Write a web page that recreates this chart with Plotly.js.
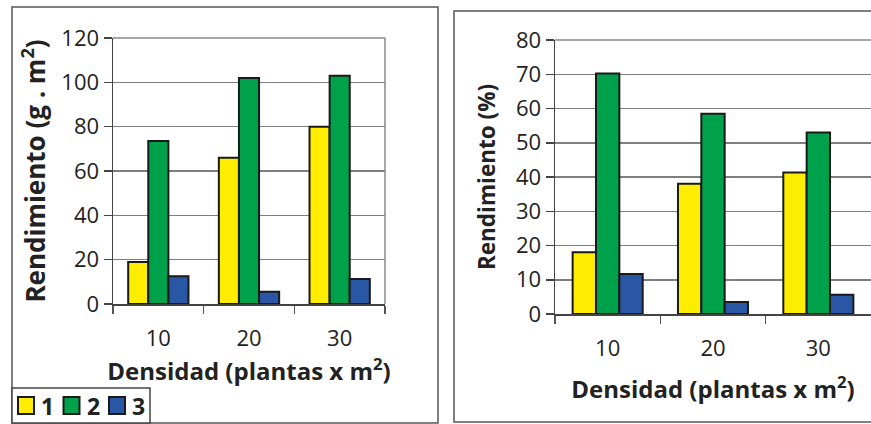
<!DOCTYPE html>
<html>
<head>
<meta charset="utf-8">
<script src="https://cdn.plot.ly/plotly-3.0.1.min.js"></script>
<style>html,body{margin:0;padding:0;background:#fff;}#chart{width:871px;height:424px;}</style>
</head>
<body>
<div id="chart"></div>
<script>
// Data
const densidad = ['10', '20', '30'];
const seriesNames = ['1', '2', '3'];
const seriesColors = ['#FFED00', '#00A14B', '#2A56A6'];
// Left chart: Rendimiento (g . m2)
const gramos1 = [19, 66, 80];
const gramos2 = [73.5, 102, 103];
const gramos3 = [12.5, 5.5, 11.3];
// Right chart: Rendimiento (%)
const pct1 = [18, 38, 41.3];
const pct2 = [70.2, 58.5, 53];
const pct3 = [11.7, 3.5, 5.6];

const leftVals = [gramos1, gramos2, gramos3];
const rightVals = [pct1, pct2, pct3];

const FONT = 'Open Sans, Noto Sans, DejaVu Sans, sans-serif';
const INK = '#222';
const traces = [];
leftVals.forEach((v, i) => {
  traces.push({
    type: 'bar', x: densidad, y: v, name: seriesNames[i], xaxis: 'x', yaxis: 'y',
    marker: {color: seriesColors[i], line: {color: '#1a1a1a', width: 2}},
    showlegend: false, hoverinfo: 'y'
  });
});
rightVals.forEach((v, i) => {
  traces.push({
    type: 'bar', x: densidad, y: v, name: seriesNames[i], xaxis: 'x2', yaxis: 'y2',
    marker: {color: seriesColors[i], line: {color: '#1a1a1a', width: 2}},
    showlegend: false, hoverinfo: 'y'
  });
});

const W = 871, H = 424;
const px = x => x / W;
const py = y => 1 - y / H;

const xBase = {
  type: 'category', tickson: 'boundaries', ticks: 'outside', ticklen: 8, tickwidth: 1.5,
  tickcolor: '#555', showgrid: false, showline: true, linecolor: '#444', linewidth: 1.5,
  tickfont: {family: FONT, size: 22, color: INK}, ticklabelstandoff: 14,
  fixedrange: true, zeroline: false, automargin: false
};
const yBase = {
  ticks: 'outside', ticklen: 8, tickwidth: 1.5, tickcolor: '#444',
  showgrid: true, gridcolor: '#7f7f7f', gridwidth: 1.5,
  showline: true, linecolor: '#444', linewidth: 1.5, zeroline: false,
  tickfont: {family: FONT, size: 22, color: INK}, fixedrange: true, automargin: false
};

const shapes = [
  // left panel frame
  {type: 'rect', xref: 'paper', yref: 'paper', x0: px(12), x1: px(438), y0: py(423), y1: py(7), line: {color: '#555', width: 1.5}, layer: 'below'},
  // right panel frame
  {type: 'rect', xref: 'paper', yref: 'paper', x0: px(454), x1: px(880), y0: py(422), y1: py(11), line: {color: '#555', width: 1.5}, layer: 'below'},
  // plot area top/right borders (gray)
  {type: 'line', xref: 'paper', yref: 'paper', x0: px(113), x1: px(385), y0: py(38), y1: py(38), line: {color: '#8a8a8a', width: 1.5}},
  {type: 'line', xref: 'paper', yref: 'paper', x0: px(385), x1: px(385), y0: py(38), y1: py(304), line: {color: '#8a8a8a', width: 1.5}},
  {type: 'line', xref: 'paper', yref: 'paper', x0: px(555), x1: 1, y0: py(40), y1: py(40), line: {color: '#8a8a8a', width: 1.5}},
  // legend box
  {type: 'rect', xref: 'paper', yref: 'paper', x0: px(12), x1: px(150), y0: py(423), y1: py(388), line: {color: '#444', width: 1.5}, fillcolor: '#fff'}
];
const annotations = [];
// legend entries built from the series names/colours
seriesNames.forEach((n, i) => {
  const x0 = 18 + i * 45.5;
  shapes.push({type: 'rect', xref: 'paper', yref: 'paper', x0: px(x0), x1: px(x0 + 16), y0: py(414), y1: py(397),
    line: {color: '#1a1a1a', width: 2}, fillcolor: seriesColors[i]});
  annotations.push({xref: 'paper', yref: 'paper', x: px(x0 + 21), y: py(406), xanchor: 'left', yanchor: 'middle',
    text: n, showarrow: false, font: {family: FONT, size: 23, color: INK, weight: 'bold'}});
});

const layout = {
  width: W, height: H,
  margin: {l: 0, r: 0, t: 0, b: 0},
  paper_bgcolor: '#fff', plot_bgcolor: '#fff',
  barmode: 'group', bargap: 0.335, bargroupgap: 0,
  showlegend: false,
  font: {family: FONT, color: INK},
  xaxis: Object.assign({}, xBase, {
    domain: [px(113), px(385)], anchor: 'y',
    title: {text: 'Densidad (plantas x m<sup>2</sup>)', font: {family: FONT, size: 24, color: INK, weight: 'bold'}, standoff: 10}
  }),
  yaxis: Object.assign({}, yBase, {
    domain: [py(304), py(38)], anchor: 'x', range: [0, 120], dtick: 20,
    title: {text: 'Rendimiento (g . m<sup>2</sup>)', font: {family: FONT, size: 26, color: INK, weight: 'bold'}, standoff: 8}
  }),
  xaxis2: Object.assign({}, xBase, {
    domain: [px(555), 1], anchor: 'y2',
    title: {text: 'Densidad (plantas x m<sup>2</sup>)', font: {family: FONT, size: 24, color: INK, weight: 'bold'}, standoff: 20}
  }),
  yaxis2: Object.assign({}, yBase, {
    domain: [py(314), py(40)], anchor: 'x2', range: [0, 80], dtick: 10,
    title: {text: 'Rendimiento (%)', font: {family: FONT, size: 22.5, color: INK, weight: 'bold'}, standoff: 14}
  }),
  shapes: shapes,
  annotations: annotations
};

Plotly.newPlot('chart', traces, layout, {displayModeBar: false, staticPlot: true});
</script>
</body>
</html>
